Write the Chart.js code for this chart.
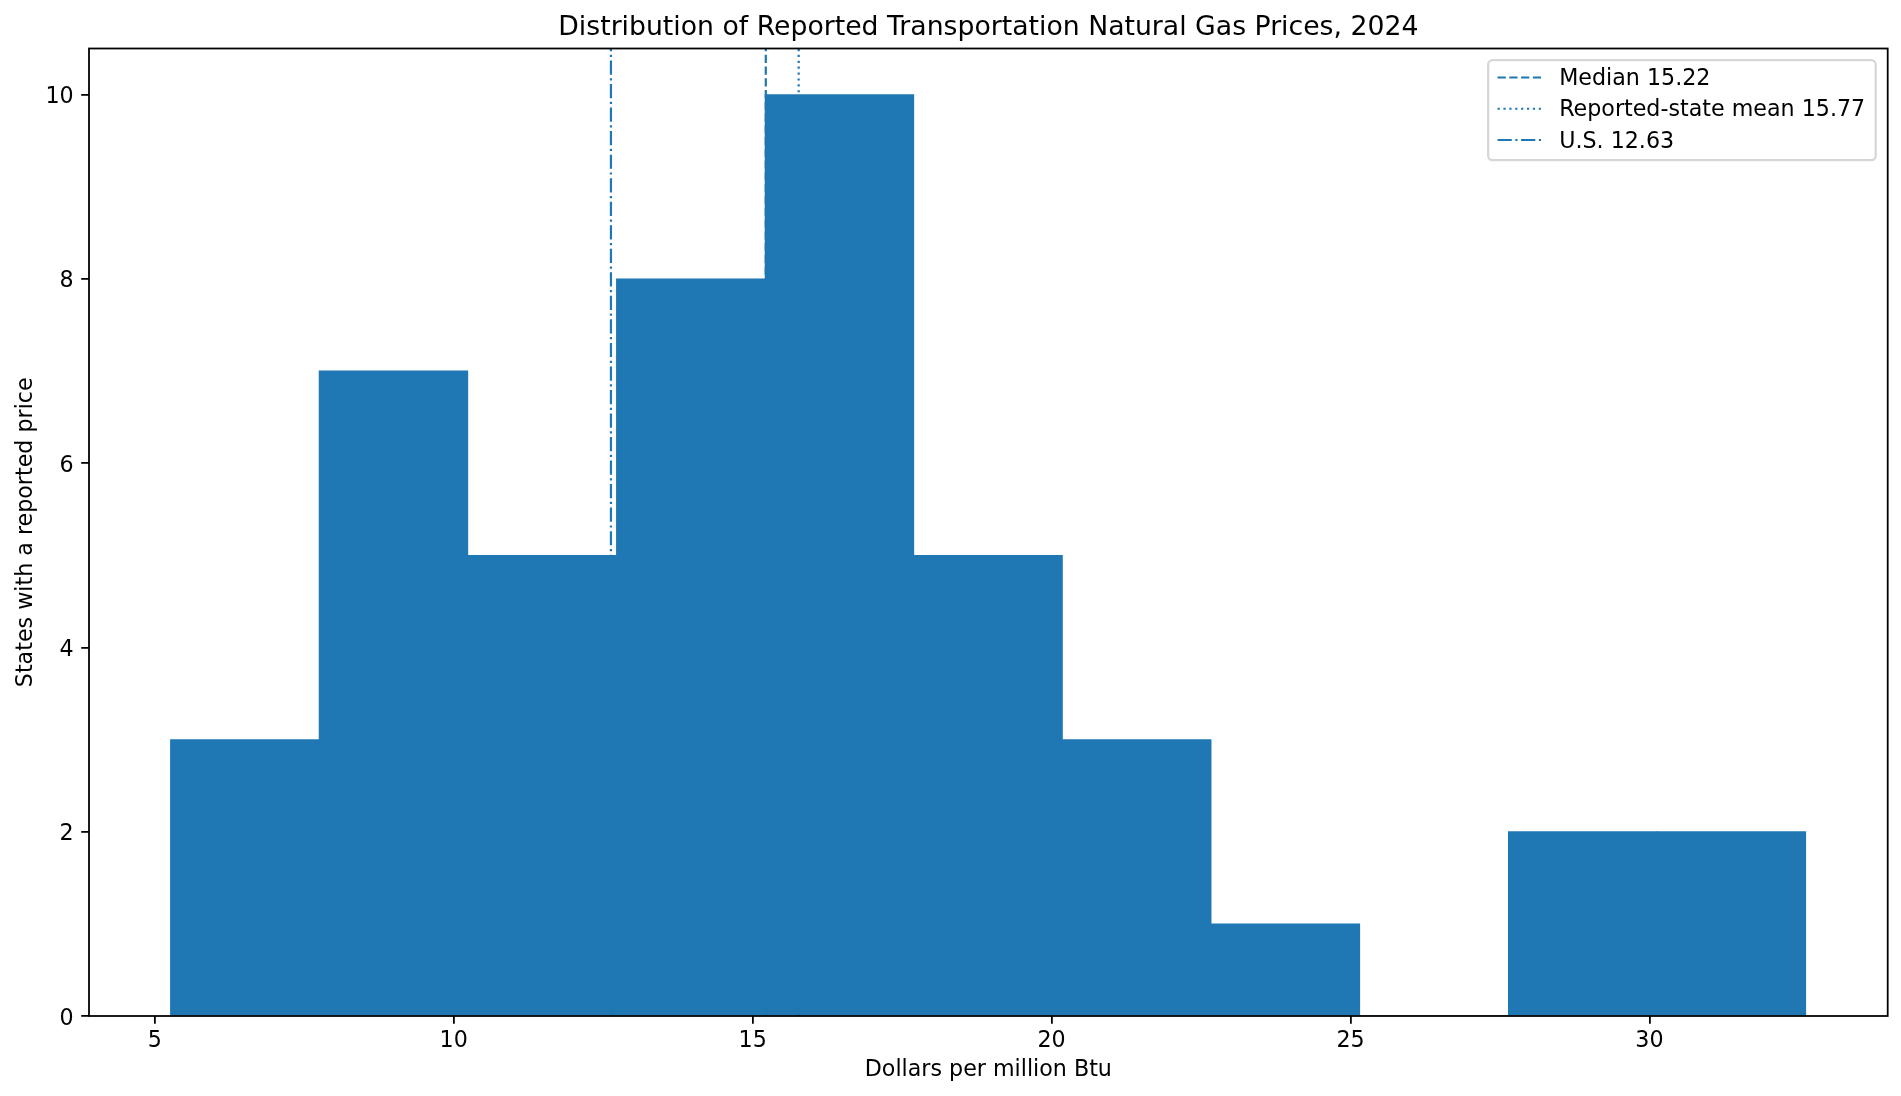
<!DOCTYPE html>
<html>
<head>
<meta charset="utf-8">
<script src="https://cdn.jsdelivr.net/npm/chart.js@4.4.1/dist/chart.umd.min.js"></script>
<style>
html, body { margin: 0; padding: 0; background: #ffffff; }
#wrap { width: 1901px; height: 1096px; position: relative; }
</style>
</head>
<body>
<div id="wrap"><canvas id="c"></canvas></div>
<script>
// ---- data ----
const binEdges = [5.263, 7.749, 10.236, 12.722, 15.209, 17.695, 20.181, 22.668, 25.154, 27.641, 30.127, 32.614];
const binCounts = [3, 7, 5, 8, 10, 5, 3, 1, 0, 2, 2];
const refLabels = ['Median 15.22', 'Reported-state mean 15.77', 'U.S. 12.63'];
const refValues = [15.22, 15.77, 12.63];
const xTickValues = [5, 10, 15, 20, 25, 30];
const yTickValues = [0, 2, 4, 6, 8, 10];
const titleText = 'Distribution of Reported Transportation Natural Gas Prices, 2024';
const xLabel = 'Dollars per million Btu';
const yLabel = 'States with a reported price';
const xLimits = [3.90, 33.985];
const yLimits = [0, 10.5];

// ---- styles ----
const BLUE = '#1f77b4';
const FONT = "'DejaVu Sans', sans-serif";
const FS = 22.2;
const LW = 2.22;
const SPINE = 1.78;
const dashPatterns = [[3.7 * LW, 1.6 * LW], [1 * LW, 1.65 * LW], [6.4 * LW, 1.6 * LW, 1 * LW, 1.6 * LW]];

const barData = binCounts.map((c, i) => ({ x: (binEdges[i] + binEdges[i + 1]) / 2, y: c }));

const lineSets = refValues.map((v, i) => ({
  type: 'line',
  label: refLabels[i],
  data: [{ x: v, y: yLimits[0] }, { x: v, y: yLimits[1] }],
  borderColor: BLUE,
  borderWidth: LW,
  borderDash: dashPatterns[i],
  borderCapStyle: 'butt',
  pointRadius: 0,
  fill: false,
  tension: 0,
  order: 0
}));

const framePlugin = {
  id: 'frame',
  afterDatasetsDraw(chart) {
    const { ctx, chartArea: ca } = chart;
    ctx.save();
    ctx.strokeStyle = '#000';
    ctx.lineWidth = SPINE;
    ctx.setLineDash([]);
    ctx.strokeRect(ca.left, ca.top, ca.right - ca.left, ca.bottom - ca.top);
    ctx.restore();
  }
};

const legendPlugin = {
  id: 'mplLegend',
  afterDraw(chart) {
    const { ctx, chartArea: ca } = chart;
    const items = chart.data.datasets.filter(d => d.type === 'line');
    ctx.save();
    ctx.font = FS + 'px ' + FONT;
    const tw = Math.max(...items.map(d => ctx.measureText(d.label).width));
    const w = tw + 81.5, h = 100;
    const right = ca.right - 12, top = ca.top + 11.7, left = right - w;
    ctx.beginPath();
    ctx.roundRect(left, top, w, h, 4.4);
    ctx.fillStyle = 'rgba(255,255,255,0.8)';
    ctx.fill();
    ctx.lineWidth = LW;
    ctx.strokeStyle = 'rgba(204,204,204,0.8)';
    ctx.stroke();
    items.forEach((d, i) => {
      const base = top + 25 + i * 31.25;
      const hy = base - 7.7;
      ctx.beginPath();
      ctx.setLineDash(d.borderDash);
      ctx.lineCap = 'butt';
      ctx.strokeStyle = d.borderColor;
      ctx.lineWidth = d.borderWidth;
      ctx.moveTo(left + 9.4, hy);
      ctx.lineTo(left + 9.4 + 44.4, hy);
      ctx.stroke();
      ctx.setLineDash([]);
      ctx.fillStyle = '#000';
      ctx.textBaseline = 'alphabetic';
      ctx.textAlign = 'left';
      ctx.fillText(d.label, left + 71, base);
    });
    ctx.restore();
  }
};

const tickGrid = {
  display: true,
  offset: false,
  drawOnChartArea: false,
  drawTicks: true,
  tickLength: 7.8,
  tickColor: '#000',
  tickWidth: SPINE,
  color: '#000',
  lineWidth: SPINE
};

new Chart(document.getElementById('c'), {
  type: 'bar',
  data: {
    datasets: [
      ...lineSets,
      {
        type: 'bar',
        label: 'Histogram',
        data: barData,
        backgroundColor: BLUE,
        borderWidth: 0,
        barPercentage: 1,
        categoryPercentage: 1,
        inflateAmount: 0.4,
        order: 1
      }
    ]
  },
  options: {
    responsive: true,
    maintainAspectRatio: false,
    animation: false,
    events: [],
    layout: { padding: { left: 0, right: 13.3, top: 0, bottom: 0 } },
    plugins: {
      legend: { display: false },
      tooltip: { enabled: false },
      title: {
        display: true,
        text: titleText,
        fullSize: false,
        color: '#000',
        font: { family: FONT, size: 26.7, weight: 'normal', lineHeight: 1.2 },
        padding: { top: 12.0, bottom: 4.46 }
      }
    },
    scales: {
      x: {
        type: 'linear',
        min: xLimits[0],
        max: xLimits[1],
        offset: false,
        afterBuildTicks: s => { s.ticks = xTickValues.map(v => ({ value: v })); },
        afterFit: s => { s.height = 80; },
        grid: tickGrid,
        border: { display: false },
        ticks: {
          color: '#000',
          font: { family: FONT, size: FS },
          padding: 4.4,
          maxRotation: 0,
          autoSkip: false,
          callback: v => String(v)
        },
        title: {
          display: true,
          text: xLabel,
          color: '#000',
          font: { family: FONT, size: FS },
          padding: { top: 0, bottom: 12 }
        }
      },
      y: {
        type: 'linear',
        min: yLimits[0],
        max: yLimits[1],
        afterBuildTicks: s => { s.ticks = yTickValues.map(v => ({ value: v })); },
        afterFit: s => { s.width = 89; },
        grid: tickGrid,
        border: { display: false },
        ticks: {
          color: '#000',
          font: { family: FONT, size: FS },
          padding: 7.5,
          labelOffset: 2.8,
          autoSkip: false,
          callback: v => String(v)
        },
        title: {
          display: true,
          text: yLabel,
          color: '#000',
          font: { family: FONT, size: FS },
          padding: { top: 12.5, bottom: 0 }
        }
      }
    }
  },
  plugins: [framePlugin, legendPlugin]
});
</script>
</body>
</html>
